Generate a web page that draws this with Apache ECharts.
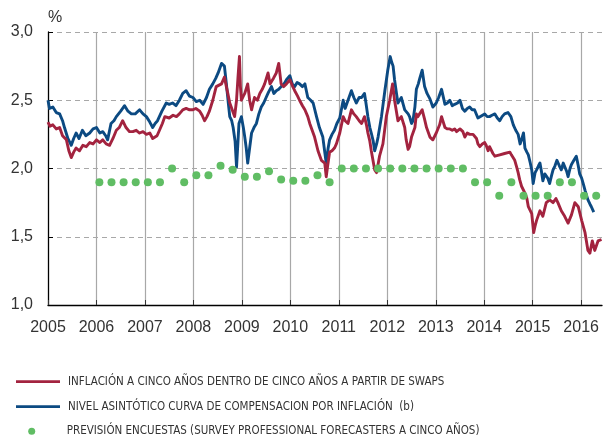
<!DOCTYPE html>
<html>
<head>
<meta charset="utf-8">
<script src="https://cdn.jsdelivr.net/npm/echarts@6/dist/echarts.min.js"></script>
<style>
html,body{margin:0;padding:0;background:#fff;}
#chart{width:604px;height:442px;}
</style>
</head>
<body>
<div id="chart"></div>
<script>
// ---- data (decimal years) ----
const seriesNames = [
  'INFLACIÓN A CINCO AÑOS DENTRO DE CINCO AÑOS A PARTIR DE SWAPS',
  'NIVEL ASINTÓTICO CURVA DE COMPENSACION POR INFLACIÓN  (b)',
  'PREVISIÓN ENCUESTAS (SURVEY PROFESSIONAL FORECASTERS A CINCO AÑOS)'
];
const yTicks = [1.0, 1.5, 2.0, 2.5, 3.0];
const yearTicks = [2005,2006,2007,2008,2009,2010,2011,2012,2013,2014,2015,2016];

const redDates = [
 2005.00,2005.04,2005.10,2005.17,2005.24,2005.30,2005.38,2005.43,2005.48,2005.53,2005.58,2005.65,2005.72,2005.79,2005.86,2005.93,
 2006.00,2006.07,2006.13,2006.20,2006.27,2006.34,2006.41,2006.47,2006.54,2006.61,2006.68,2006.75,2006.82,2006.89,2006.96,
 2007.03,2007.10,2007.16,2007.20,2007.25,2007.30,2007.36,2007.41,2007.50,2007.58,2007.65,2007.71,2007.78,2007.85,2007.92,2007.99,
 2008.05,2008.13,2008.18,2008.23,2008.28,2008.33,2008.40,2008.47,2008.51,2008.58,2008.64,2008.68,2008.71,2008.75,2008.78,2008.85,2008.89,2008.92,2008.95,2008.97,2008.99,
 2009.03,2009.06,2009.12,2009.16,2009.20,2009.26,2009.32,2009.37,2009.42,2009.47,2009.54,2009.58,2009.65,2009.71,2009.76,2009.81,2009.86,2009.92,2009.99,
 2010.05,2010.09,2010.15,2010.19,2010.25,2010.30,2010.36,2010.40,2010.45,2010.50,2010.57,2010.64,2010.68,2010.71,2010.74,2010.77,2010.81,2010.86,2010.91,2010.95,
 2011.02,2011.09,2011.13,2011.19,2011.26,2011.31,2011.36,2011.42,2011.47,2011.53,2011.57,2011.60,2011.64,2011.67,2011.71,2011.74,2011.78,2011.84,2011.91,2011.98,
 2012.05,2012.11,2012.15,2012.22,2012.26,2012.29,2012.32,2012.36,2012.39,2012.43,2012.46,2012.50,2012.53,2012.57,2012.60,2012.63,2012.67,2012.72,2012.77,2012.81,2012.88,2012.94,2012.98,
 2013.01,2013.08,2013.12,2013.19,2013.24,2013.29,2013.34,2013.39,2013.43,2013.50,2013.56,2013.60,2013.65,2013.70,2013.77,2013.84,2013.87,2013.91,2013.96,
 2014.01,2014.04,2014.08,2014.11,2014.18,2014.22,2014.25,2014.32,2014.36,2014.42,2014.46,2014.53,2014.56,2014.60,2014.63,2014.67,2014.70,2014.73,2014.77,2014.84,2014.88,2014.91,2014.98,
 2015.02,2015.05,2015.08,2015.15,2015.21,2015.28,2015.35,2015.42,2015.48,2015.52,2015.59,2015.66,2015.73,2015.80,2015.87,2015.94,
 2016.01,2016.08,2016.14,2016.18,2016.23,2016.28,2016.35,2016.42
];
const redValues = [
 2.34,2.31,2.32,2.29,2.30,2.24,2.21,2.13,2.08,2.12,2.15,2.13,2.17,2.16,2.19,2.18,
 2.21,2.19,2.21,2.18,2.17,2.22,2.28,2.30,2.35,2.30,2.27,2.27,2.28,2.26,2.27,
 2.25,2.26,2.22,2.21,2.24,2.28,2.33,2.38,2.37,2.39,2.38,2.40,2.43,2.44,2.43,2.43,
 2.44,2.42,2.39,2.35,2.38,2.42,2.50,2.60,2.61,2.62,2.67,2.60,2.55,2.48,2.45,2.38,2.50,2.67,2.82,2.60,2.50,
 2.53,2.55,2.62,2.50,2.43,2.52,2.50,2.55,2.58,2.62,2.70,2.62,2.66,2.70,2.77,2.62,2.60,2.62,2.65,
 2.60,2.57,2.53,2.50,2.46,2.43,2.38,2.33,2.28,2.23,2.13,2.06,2.05,2.04,1.94,2.02,2.12,2.13,2.15,2.18,
 2.26,2.38,2.35,2.33,2.43,2.40,2.38,2.35,2.33,2.38,2.32,2.26,2.20,2.13,2.05,1.99,1.97,2.09,2.18,2.38,
 2.50,2.62,2.50,2.35,2.35,2.38,2.38,2.30,2.21,2.14,2.16,2.23,2.24,2.30,2.40,2.38,2.37,2.43,2.36,2.30,2.23,2.21,2.21,
 2.26,2.32,2.38,2.30,2.29,2.29,2.28,2.29,2.27,2.29,2.27,2.23,2.26,2.25,2.25,2.22,2.18,2.16,2.18,
 2.19,2.17,2.13,2.16,2.11,2.09,2.10,2.10,2.09,2.11,2.12,2.12,2.10,2.10,2.06,2.01,1.97,1.92,1.87,1.82,1.78,1.72,1.67,
 1.53,1.58,1.62,1.69,1.65,1.75,1.77,1.75,1.78,1.75,1.69,1.65,1.60,1.66,1.75,1.72,
 1.62,1.53,1.40,1.38,1.47,1.40,1.47,1.48
];

const blueDates = [
 2005.00,2005.03,2005.10,2005.17,2005.24,2005.30,2005.34,2005.41,2005.48,2005.53,2005.58,2005.64,2005.71,2005.78,2005.86,2005.93,
 2006.00,2006.07,2006.13,2006.19,2006.23,2006.30,2006.36,2006.41,2006.50,2006.58,2006.65,2006.72,2006.80,2006.89,2006.96,
 2007.03,2007.10,2007.16,2007.21,2007.26,2007.35,2007.44,2007.50,2007.57,2007.64,2007.71,2007.78,2007.85,2007.92,2007.99,
 2008.06,2008.13,2008.20,2008.27,2008.33,2008.40,2008.46,2008.51,2008.58,2008.64,2008.68,2008.72,2008.75,2008.79,2008.82,2008.86,2008.89,2008.92,2008.94,2008.99,
 2009.03,2009.06,2009.09,2009.12,2009.16,2009.20,2009.25,2009.30,2009.35,2009.40,2009.45,2009.50,2009.55,2009.61,2009.66,2009.71,2009.76,2009.81,2009.87,2009.92,2009.99,
 2010.04,2010.09,2010.14,2010.19,2010.25,2010.30,2010.36,2010.42,2010.47,2010.54,2010.60,2010.67,2010.71,2010.74,2010.78,2010.81,2010.86,2010.91,2010.96,
 2011.02,2011.09,2011.13,2011.16,2011.21,2011.26,2011.31,2011.36,2011.42,2011.47,2011.53,2011.56,2011.60,2011.64,2011.67,2011.71,2011.74,2011.78,2011.81,2011.88,2011.95,
 2012.01,2012.06,2012.09,2012.12,2012.15,2012.19,2012.22,2012.26,2012.29,2012.32,2012.36,2012.39,2012.43,2012.46,2012.50,2012.53,2012.57,2012.60,2012.64,2012.67,2012.72,2012.77,2012.82,2012.88,2012.94,
 2013.01,2013.06,2013.12,2013.19,2013.24,2013.29,2013.34,2013.39,2013.45,2013.50,2013.55,2013.60,2013.65,2013.70,2013.75,2013.80,2013.87,2013.91,
 2014.01,2014.06,2014.11,2014.16,2014.22,2014.27,2014.32,2014.37,2014.42,2014.49,2014.55,2014.60,2014.65,2014.70,2014.74,2014.77,2014.81,2014.84,2014.88,2014.91,2014.95,2014.98,
 2015.01,2015.05,2015.08,2015.12,2015.15,2015.18,2015.21,2015.25,2015.28,2015.31,2015.35,2015.39,2015.42,2015.46,2015.50,2015.55,2015.59,2015.63,2015.66,2015.70,2015.73,2015.77,2015.80,2015.85,2015.90,2015.94,2015.97,
 2016.01,2016.05,2016.08,2016.14,2016.18,2016.21,2016.26
];
const blueValues = [
 2.50,2.44,2.45,2.41,2.40,2.35,2.30,2.22,2.17,2.22,2.26,2.22,2.28,2.24,2.26,2.29,
 2.30,2.26,2.27,2.24,2.21,2.33,2.35,2.38,2.42,2.46,2.42,2.40,2.40,2.43,2.40,
 2.38,2.34,2.30,2.33,2.35,2.42,2.48,2.47,2.48,2.46,2.50,2.55,2.57,2.53,2.52,
 2.49,2.50,2.47,2.52,2.58,2.62,2.66,2.70,2.77,2.75,2.62,2.48,2.38,2.35,2.30,2.20,2.01,2.20,2.33,2.38,
 2.30,2.23,2.15,2.04,2.15,2.26,2.30,2.33,2.40,2.45,2.48,2.52,2.56,2.60,2.55,2.57,2.58,2.60,2.62,2.65,2.68,
 2.62,2.60,2.63,2.62,2.60,2.62,2.52,2.50,2.48,2.38,2.30,2.23,2.12,2.04,2.15,2.21,2.25,2.28,2.33,
 2.37,2.50,2.44,2.45,2.52,2.57,2.52,2.48,2.52,2.52,2.55,2.48,2.38,2.30,2.26,2.20,2.13,2.18,2.23,2.38,2.57,
 2.72,2.82,2.78,2.75,2.65,2.55,2.48,2.47,2.52,2.52,2.43,2.43,2.40,2.38,2.33,2.35,2.45,2.58,2.62,2.66,2.72,2.60,2.55,2.51,2.45,
 2.48,2.52,2.58,2.47,2.48,2.50,2.46,2.47,2.48,2.50,2.44,2.42,2.44,2.45,2.43,2.43,2.37,2.36,
 2.40,2.38,2.38,2.39,2.40,2.37,2.35,2.38,2.40,2.41,2.38,2.32,2.28,2.25,2.18,2.21,2.26,2.15,2.12,2.10,2.04,1.99,
 1.89,1.97,1.99,2.02,2.04,1.98,1.91,1.96,1.97,1.93,1.89,1.95,1.99,2.02,2.06,2.02,1.99,2.04,2.03,1.98,1.94,2.00,2.03,2.06,2.09,2.02,1.96,
 1.93,1.88,1.84,1.77,1.74,1.72,1.68
];

const surveyDates = [
 2006.06,2006.31,2006.56,2006.81,2007.06,2007.31,2007.56,2007.81,
 2008.06,2008.31,2008.56,2008.81,2009.06,2009.31,2009.56,2009.81,
 2010.06,2010.31,2010.56,2010.81,2011.06,2011.31,2011.56,2011.81,
 2012.06,2012.31,2012.56,2012.81,2013.06,2013.31,2013.56,2013.81,
 2014.06,2014.31,2014.56,2014.81,2015.06,2015.31,2015.56,2015.81,
 2016.06,2016.31
];
const surveyValues = [
 1.90,1.90,1.90,1.90,1.90,1.90,2.00,1.90,
 1.95,1.95,2.02,1.99,1.94,1.94,1.98,1.92,
 1.91,1.91,1.95,1.90,2.00,2.00,2.00,2.00,
 2.00,2.00,2.00,2.00,2.00,2.00,2.00,1.90,
 1.90,1.80,1.90,1.80,1.80,1.80,1.90,1.90,
 1.80,1.80
];

// ---- build ----
const zip = (a, b) => a.map((d, i) => [d, b[i]]);
const RED = '#a3233f', BLUE = '#0c4a82', GREEN = '#60bd64';
const TXT = '#333333';
const AXISFONT = '"Liberation Sans", Arial, Helvetica, sans-serif';
const LEGFONT = '"Liberation Sans Narrow", "DejaVu Sans Condensed", "Roboto Condensed", "Liberation Sans", sans-serif';

const chart = echarts.init(document.getElementById('chart'), null, {renderer: 'canvas'});
chart.setOption({
  animation: false,
  backgroundColor: '#ffffff',
  grid: {left: 48, right: 2, top: 32, bottom: 137, containLabel: false},
  graphic: [{
    type: 'text', left: 48, top: 10,
    style: {text: '%', font: '16px ' + AXISFONT, fill: TXT}
  }],
  xAxis: {
    type: 'value', min: yearTicks[0], max: 2016.43, interval: 1,
    axisLine: {show: true, onZero: false, lineStyle: {color: '#000', width: 1.3}},
    axisTick: {show: true, inside: true, length: 5, lineStyle: {color: '#333', width: 1}},
    axisLabel: {
      show: true, margin: 15, color: TXT, fontSize: 16, fontFamily: AXISFONT,
      showMaxLabel: false, showMinLabel: true,
      formatter: v => (yearTicks.indexOf(Math.round(v)) >= 0 && Math.abs(v - Math.round(v)) < 1e-6) ? String(Math.round(v)) : ''
    },
    splitLine: {show: true, showMinLine: false, showMaxLine: false, lineStyle: {color: '#a8a8a8', width: 1.2, type: 'solid'}}
  },
  yAxis: {
    type: 'value', min: yTicks[0], max: yTicks[yTicks.length - 1], interval: 0.5,
    axisLine: {show: true, lineStyle: {color: '#000', width: 1.3}},
    axisTick: {show: true, inside: true, length: 5, lineStyle: {color: '#000', width: 1}},
    axisLabel: {
      margin: 15, color: TXT, fontSize: 16, fontFamily: AXISFONT,
      formatter: v => v.toFixed(1).replace('.', ',')
    },
    splitLine: {show: true, showMinLine: false, lineStyle: {color: '#a8a8a8', width: 1, type: [5, 4]}}
  },
  legend: [{
    orient: 'vertical', left: 16, top: 374.7, padding: 0,
    itemWidth: 44, itemHeight: 10, itemGap: 11,
    selectedMode: false,
    data: [
      {name: seriesNames[0], icon: 'path://M0,3.8 L44,3.8 L44,6.6 L0,6.6 Z', itemStyle: {color: RED}},
      {name: seriesNames[1], icon: 'path://M0,3.8 L44,3.8 L44,6.6 L0,6.6 Z', itemStyle: {color: BLUE}}
    ],
    textStyle: {color: TXT, fontSize: 11.5, lineHeight: 14, fontFamily: LEGFONT, padding: [0, 0, 0, 3]}
  }, {
    orient: 'vertical', left: 28.2, top: 424.3, padding: 0,
    itemWidth: 7, itemHeight: 7,
    selectedMode: false,
    data: [{name: seriesNames[2], icon: 'circle'}],
    textStyle: {color: TXT, fontSize: 11.5, lineHeight: 14, fontFamily: LEGFONT, padding: [0, 0, 0, 26.5]}
  }],
  series: [
    {
      name: seriesNames[1], type: 'line', data: zip(blueDates, blueValues),
      showSymbol: false, symbol: 'none', smooth: false, z: 2,
      lineStyle: {color: BLUE, width: 2.9, join: 'round'}, itemStyle: {color: BLUE}
    },
    {
      name: seriesNames[0], type: 'line', data: zip(redDates, redValues),
      showSymbol: false, symbol: 'none', smooth: false, z: 3,
      lineStyle: {color: RED, width: 2.9, join: 'round'}, itemStyle: {color: RED}
    },
    {
      name: seriesNames[2], type: 'scatter', data: zip(surveyDates, surveyValues),
      symbol: 'circle', symbolSize: 8, z: 4,
      itemStyle: {color: GREEN, opacity: 1}
    }
  ]
});
</script>
</body>
</html>
